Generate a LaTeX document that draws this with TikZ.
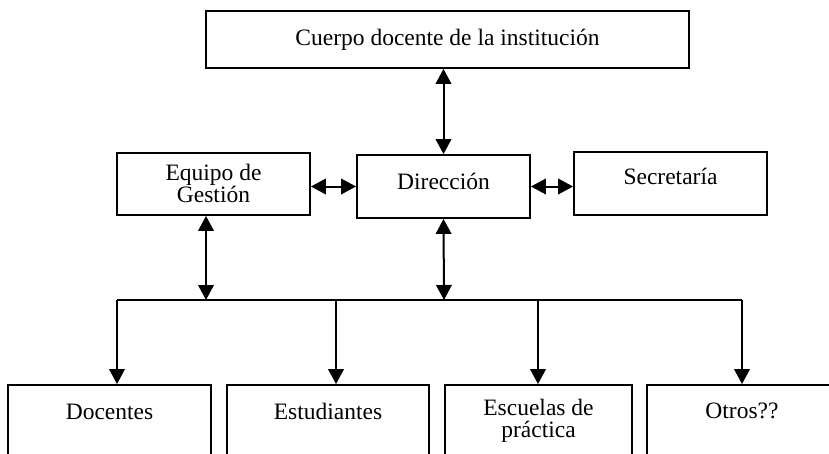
\documentclass[tikz,border=0pt]{standalone}
\usepackage{fontspec}
\setmainfont{Liberation Serif}
\usetikzlibrary{arrows.meta}
\tikzset{
  box/.style={draw, line width=1.8pt, rectangle, inner sep=0pt,
    font=\fontsize{23.5}{22}\selectfont, align=center},
  lbl/.style={inner sep=0pt, font=\fontsize{23.5}{22}\selectfont, align=center},
  con/.style={line width=2pt},
  arr/.style={con, -{Triangle[length=15pt,width=15.5pt]}},
  darr/.style={con, {Triangle[length=15pt,width=15.5pt]}-{Triangle[length=15pt,width=15.5pt]}},
  bus/.style={line width=1.7pt}
}
\begin{document}
\begin{tikzpicture}[x=1pt,y=-1pt]
\useasboundingbox (0,0) rectangle (829,453);
\clip (0,0) rectangle (829,453);
\fill[white] (0,0) rectangle (829,453);

% upper boxes
\node[box, minimum width=483pt, minimum height=57.3pt] (top) at (447.5,39.35) {Cuerpo docente de la instituci\'on};
\node[box, minimum width=193pt, minimum height=62.3pt] (eq) at (213.5,183.85) {Equipo de\\Gesti\'on};
\node[box, minimum width=173pt, minimum height=63pt, text height=17.6pt, text depth=11pt] (dir) at (443.5,186.5) {Direcci\'on};
\node[box, minimum width=193pt, minimum height=63pt, text height=17.6pt, text depth=15pt] (sec) at (670.5,183.5) {Secretar\'ia};

% bottom boxes (extend past the lower edge)
\node[box, minimum width=203pt, minimum height=90pt] (doc) at (109.5,430) {};
\node[box, minimum width=202pt, minimum height=90pt] (est) at (328,430) {};
\node[box, minimum width=187pt, minimum height=90pt] (esc) at (538.5,430) {};
\node[box, minimum width=190pt, minimum height=90pt] (otr) at (742,430) {};

\node[lbl, anchor=north] (doct) at ([yshift=-19.4pt]doc.north) {Docentes};
\node[lbl, anchor=north] (estt) at ([yshift=-19pt]est.north) {Estudiantes};
\node[lbl, anchor=north] (esct) at ([yshift=-15pt]esc.north) {Escuelas de\\pr\'actica};
\node[lbl, anchor=north] (otrt) at ([yshift=-19pt]otr.north) {Otros??};

% junction coordinates
\coordinate (j1) at (206,300);
\coordinate (j2) at (444,300);
\coordinate (b1) at (117,300);
\coordinate (b2) at (336,300);
\coordinate (b3) at (538,300);
\coordinate (b4) at (742,300);

% connectors
\draw[darr] (dir.north) -- (dir.north |- top.south);
\draw[darr] (eq.east |- dir.west) -- (dir.west);
\draw[darr] (dir.east) -- (dir.east -| sec.west);
\draw[darr] (j1 |- eq.south) -- (j1);
\draw[darr] (dir.south) -- (j2);
\draw[bus] (b1) -- (b4);
\draw[arr] (b1) -- (b1 |- doc.north);
\draw[arr] (b2) -- (b2 |- est.north);
\draw[arr] (b3) -- (b3 |- esc.north);
\draw[arr] (b4) -- (b4 |- otr.north);
\end{tikzpicture}
\end{document}
